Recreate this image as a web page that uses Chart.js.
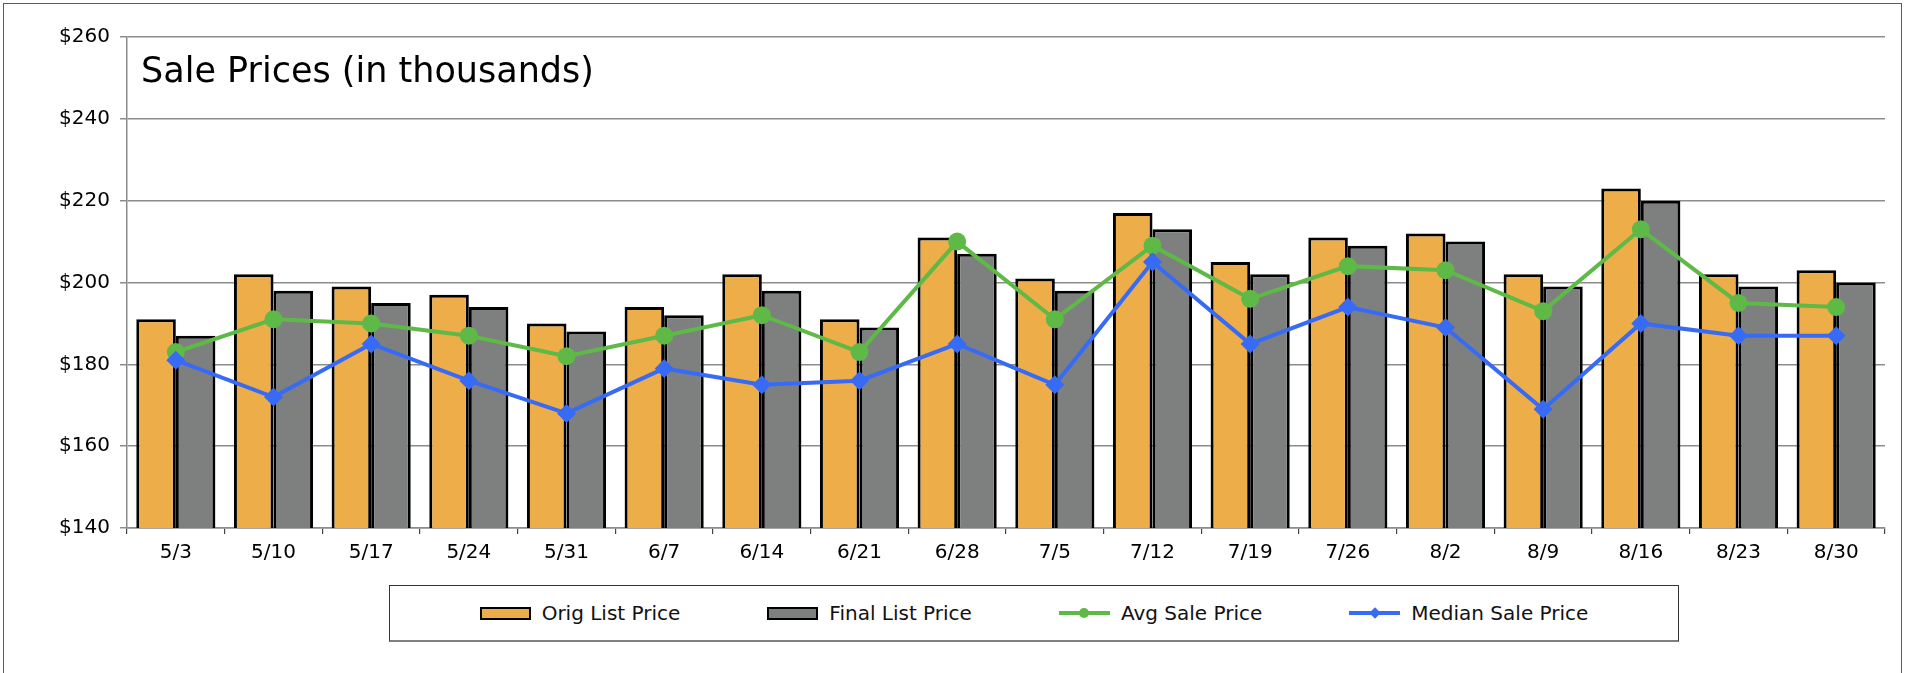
<!DOCTYPE html>
<html>
<head>
<meta charset="utf-8">
<title>Sale Prices</title>
<script src="https://cdn.jsdelivr.net/npm/chart.js@4.4.1/dist/chart.umd.min.js"></script>
<style>
  html, body { margin: 0; padding: 0; overflow: hidden; background: #fff; }
  body { font-family: "DejaVu Sans", sans-serif; width: 1919px; height: 673px; position: relative; }
  #frame { position: absolute; left: 3px; top: 3px; width: 1897px; height: 720px; border: 1.5px solid #5c5c5c; border-bottom: none; }
  #chartBox { position: absolute; left: 0; top: 0; width: 1919px; height: 580px; }
  #legend { position: absolute; left: 389px; top: 585px; width: 1288px; height: 54px; border: 1px solid #333; border-bottom: 2px solid #808080;
            display: flex; align-items: center; justify-content: center; gap: 87px; }
  .item { display: flex; align-items: center; font-size: 20px; color: #111; }
  .swatch { width: 51px; height: 13px; margin-right: 11px; position: relative; box-sizing: border-box; }
  .swatch.bar { border: 2.5px solid #000; }
  .swatch .stroke { position: absolute; left: 0; right: 0; top: 4.5px; height: 4px; }
  .swatch .dot { position: absolute; left: 20.5px; top: 1.5px; width: 10px; height: 10px; border-radius: 50%; }
  .swatch .diamond { position: absolute; left: 21.5px; top: 2.5px; width: 8px; height: 8px; transform: rotate(45deg); }
</style>
</head>
<body>
<div id="frame"></div>
<div id="chartBox"><canvas id="salesChart"></canvas></div>
<div id="legend"></div>

<script>
// chart data
const chartTitle = 'Sale Prices (in thousands)';
const weeks = ['5/3', '5/10', '5/17', '5/24', '5/31', '6/7', '6/14', '6/21', '6/28',
               '7/5', '7/12', '7/19', '7/26', '8/2', '8/9', '8/16', '8/23', '8/30'];
const origListPrice  = [191, 202, 199, 197, 190, 194, 202, 191, 211, 201, 217, 205, 211, 212, 202, 223, 202, 203];
const finalListPrice = [187, 198, 195, 194, 188, 192, 198, 189, 207, 198, 213, 202, 209, 210, 199, 220, 199, 200];
const avgSalePrice   = [183, 191, 190, 187, 182, 187, 192, 183, 210, 191, 209, 196, 204, 203, 193, 213, 195, 194];
const medianSalePrice= [181, 172, 185, 176, 168, 179, 175, 176, 185, 175, 205, 185, 194, 189, 169, 190, 187, 187];
const yTicks = [140, 160, 180, 200, 220, 240, 260];

const gridColor = '#8c8c8c';
const fontFamily = '"DejaVu Sans", sans-serif';

// title sits inside the plot area, top left
const insideTitle = {
  id: 'insideTitle',
  afterDraw(chart) {
    const ctx = chart.ctx;
    const area = chart.chartArea;
    ctx.save();
    ctx.font = '35px ' + fontFamily;
    ctx.fillStyle = '#000';
    ctx.textBaseline = 'alphabetic';
    ctx.fillText(chartTitle, area.left + 14, area.top + 45);
    ctx.restore();
  }
};

const data = {
  labels: weeks,
  datasets: [
    {
      type: 'bar',
      label: 'Orig List Price',
      data: origListPrice,
      backgroundColor: '#EDAD48',
      borderColor: '#000',
      borderWidth: 3,
      borderSkipped: false,
      order: 2
    },
    {
      type: 'bar',
      label: 'Final List Price',
      data: finalListPrice,
      backgroundColor: '#7D807F',
      borderColor: '#000',
      borderWidth: 3,
      borderSkipped: false,
      order: 2
    },
    {
      type: 'line',
      label: 'Avg Sale Price',
      data: avgSalePrice,
      borderColor: '#5EB946',
      backgroundColor: '#5EB946',
      borderWidth: 4,
      pointStyle: 'circle',
      pointRadius: 9,
      pointBorderWidth: 0,
      tension: 0,
      order: 1
    },
    {
      type: 'line',
      label: 'Median Sale Price',
      data: medianSalePrice,
      borderColor: '#386BF5',
      backgroundColor: '#386BF5',
      borderWidth: 4,
      pointStyle: 'rectRot',
      pointRadius: 9.5,
      pointBorderWidth: 0,
      tension: 0,
      order: 0
    }
  ]
};

const config = {
  type: 'bar',
  data: data,
  options: {
    responsive: true,
    maintainAspectRatio: false,
    animation: false,
    layout: { padding: { left: 47, right: 34, top: 37, bottom: 12 } },
    datasets: {
      bar: { barPercentage: 1.0, categoryPercentage: 0.81 }
    },
    plugins: {
      legend: { display: false },
      tooltip: { enabled: false }
    },
    scales: {
      x: {
        grid: { offset: true, drawOnChartArea: false, drawTicks: true, tickLength: 6, color: '#444', lineWidth: 1.2 },
        border: { display: true, color: gridColor, width: 1.5 },
        ticks: { color: '#000', padding: 7, font: { family: fontFamily, size: 20 } },
        afterFit(scale) { scale.height = 40; }
      },
      y: {
        min: 140,
        max: 260,
        afterBuildTicks(scale) { scale.ticks = yTicks.map(v => ({ value: v })); },
        grid: { color: gridColor, lineWidth: 1.5, tickLength: 7 },
        border: { display: true, color: gridColor, width: 1.5 },
        ticks: {
          color: '#000',
          padding: 10,
          font: { family: fontFamily, size: 20 },
          callback: v => '$' + v
        },
        afterFit(scale) { scale.width = 80; }
      }
    }
  },
  plugins: [insideTitle]
};

var salesChart = new Chart(document.getElementById('salesChart'), config);

// html legend built from the datasets
const legendBox = document.getElementById('legend');
salesChart.data.datasets.forEach(ds => {
  const item = document.createElement('div');
  item.className = 'item';
  const sw = document.createElement('span');
  if (ds.type === 'bar') {
    sw.className = 'swatch bar';
    sw.style.background = ds.backgroundColor;
  } else {
    sw.className = 'swatch';
    const stroke = document.createElement('span');
    stroke.className = 'stroke';
    stroke.style.background = ds.borderColor;
    const mark = document.createElement('span');
    mark.className = ds.pointStyle === 'rectRot' ? 'diamond' : 'dot';
    mark.style.background = ds.borderColor;
    sw.appendChild(stroke);
    sw.appendChild(mark);
  }
  const txt = document.createElement('span');
  txt.textContent = ds.label;
  item.appendChild(sw);
  item.appendChild(txt);
  legendBox.appendChild(item);
});
</script>
</body>
</html>
